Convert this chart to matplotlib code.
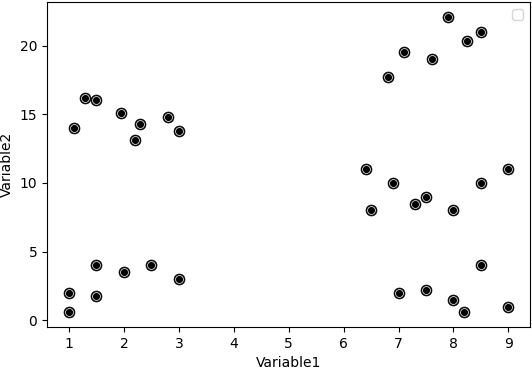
import matplotlib
matplotlib.use("Agg")
import matplotlib.pyplot as plt

variable1 = [1.1, 1.3, 1.5, 1.95, 2.3, 2.2, 2.8, 3.0,
             1.0, 1.0, 1.5, 1.5, 2.0, 2.5, 3.0,
             7.9, 8.5, 8.25, 7.1, 7.6, 6.8,
             6.4, 6.5, 6.9, 7.3, 7.5, 8.0, 8.5, 9.0,
             7.0, 7.5, 8.0, 8.2, 8.5, 9.0]
variable2 = [14.0, 16.2, 16.0, 15.1, 14.3, 13.1, 14.8, 13.8,
             2.0, 0.6, 4.0, 1.8, 3.5, 4.0, 3.0,
             22.1, 21.0, 20.3, 19.5, 19.0, 17.7,
             11.0, 8.0, 10.0, 8.5, 9.0, 8.0, 10.0, 11.0,
             2.0, 2.2, 1.5, 0.6, 4.0, 1.0]

fig, ax = plt.subplots(figsize=(5.32, 3.72), dpi=100)
ax.scatter(variable1, variable2, s=62, c="black", edgecolors="black", linewidths=0.5)
ax.scatter(variable1, variable2, s=32, c="black", edgecolors="white", linewidths=0.5)
ax.set_xlabel("Variable1")
ax.set_ylabel("Variable2")
ax.legend()
fig.subplots_adjust(left=0.0883, right=0.997, top=0.995, bottom=0.121)
fig.savefig("out.png", dpi=100)
